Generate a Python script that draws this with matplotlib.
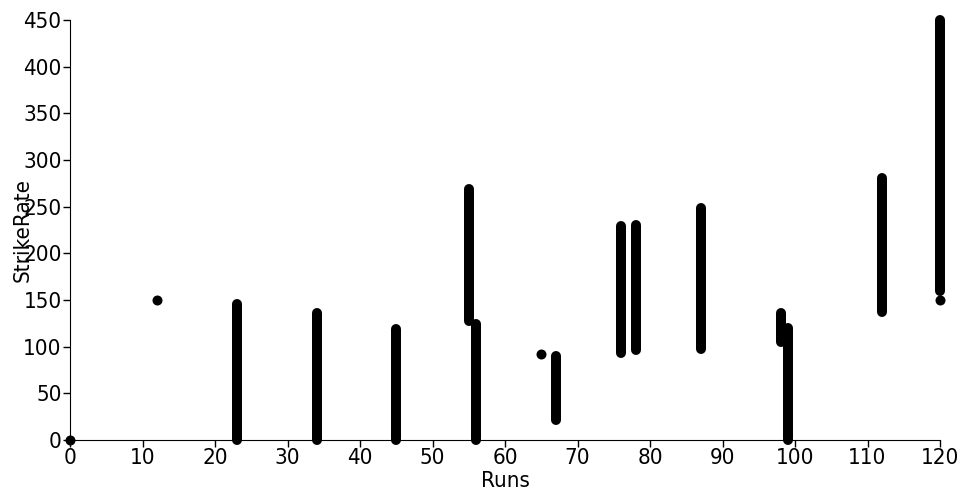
import matplotlib
matplotlib.use("Agg")
import matplotlib.pyplot as plt

# runs values with a spread of strike rates (min / max of each dense column)
bar_runs = [23, 34, 45, 55, 56, 67, 76, 78, 87, 98, 99, 112, 120]
bar_sr_low = [0, 0, 0, 127, 0, 21, 93, 96, 98, 105, 0, 137, 160]
bar_sr_high = [146, 136, 119, 269, 124, 90, 229, 230, 249, 136, 120, 281, 450]

# isolated points
single_runs = [0, 12, 65, 120]
single_sr = [0, 150, 92, 150]

x_ticks = list(range(0, 121, 10))
y_ticks = list(range(0, 451, 50))

plt.rcParams['font.family'] = ['DejaVu Sans']
plt.rcParams['font.stretch'] = 'condensed'

fig = plt.figure(figsize=(9.6, 5.0), dpi=100)
ax = fig.add_axes([70 / 960, 60 / 500, 870 / 960, 420 / 500])

dot = 10 * 72 / 100  # dot diameter in points (10 px)
ax.vlines(bar_runs, bar_sr_low, bar_sr_high, colors='black',
          linewidth=dot, capstyle='round', clip_on=False)
ax.scatter(single_runs, single_sr, s=dot ** 2, color='black',
           linewidths=0, clip_on=False, zorder=3)

ax.set_xlim(0, 120)
ax.set_ylim(0, 450)
ax.set_xticks(x_ticks)
ax.set_yticks(y_ticks)
ax.spines['top'].set_visible(False)
ax.spines['right'].set_visible(False)
ax.tick_params(labelsize=16, length=5, width=1, pad=1)

ax.set_xlabel('Runs', fontsize=16, labelpad=2)
ax.set_ylabel('StrikeRate', fontsize=16)
ax.yaxis.set_label_coords(-37 / 870, 0.5)

fig.savefig('out.png', dpi=100)
